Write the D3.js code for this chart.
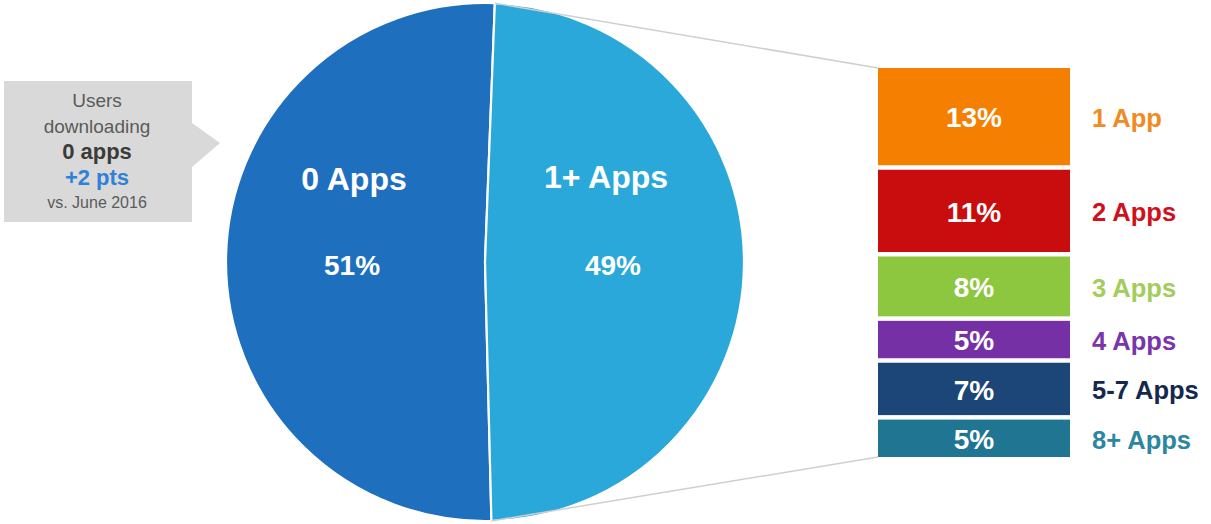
<!DOCTYPE html>
<html>
<head>
<meta charset="utf-8">
<script src="https://cdn.jsdelivr.net/npm/d3@7"></script>
<style>
  html, body { margin: 0; padding: 0; background: #fff; }
  svg { display: block; font-family: "Liberation Sans", Arial, Helvetica, sans-serif; }
</style>
</head>
<body>
<svg id="chart" width="1211" height="524"></svg>
<script>
// ---- data ----
const pieCategories = ["0 Apps", "1+ Apps"];
const pieValues = [51, 49];
const pieLabels = ["51%", "49%"];

const breakdownCategories = ["1 App", "2 Apps", "3 Apps", "4 Apps", "5-7 Apps", "8+ Apps"];
const breakdownValues = [13, 11, 8, 5, 7, 5];
const breakdownLabels = ["13%", "11%", "8%", "5%", "7%", "5%"];

const calloutLines = ["Users", "downloading", "0 apps", "+2 pts", "vs. June 2016"];

// ---- styles ----
const pieColors = { "0 Apps": "#1F6FBF", "1+ Apps": "#2AA8DA" };
const barColors = ["#F57F00", "#C90C0E", "#8DC63F", "#7530A6", "#1B4677", "#1F7592"];
const labelColors = ["#F08A22", "#D0101C", "#A3CC5C", "#7A35AC", "#14284F", "#2B86A0"];

const svg = d3.select("#chart");

// ---- pie ----
const cx = 485, cy = 262, R = 259;
const start = 0.038;
const pie = d3.pie()
  .value(d => d.value)
  .sort((a, b) => d3.ascending(a.order, b.order))
  .startAngle(start)
  .endAngle(start + 2 * Math.PI);

const pieData = pieCategories.map((c, i) => ({ cat: c, value: pieValues[i], label: pieLabels[i], order: c === "1+ Apps" ? 0 : 1 }));
const arcs = pie(pieData);
const arc = d3.arc().innerRadius(0).outerRadius(R);

const gPie = svg.append("g").attr("transform", `translate(${cx},${cy})`);
gPie.selectAll("path").data(arcs).enter().append("path")
  .attr("d", arc)
  .attr("fill", d => pieColors[d.data.cat])
  .attr("stroke", "#ffffff")
  .attr("stroke-width", 2.2);

// ---- breakdown bars ----
const barX = 878, barW = 192, barTop = 68, barBottom = 457, gap = 4.5;
const n = breakdownValues.length;
const total = d3.sum(breakdownValues);
const hScale = d3.scaleLinear().domain([0, total]).range([0, (barBottom - barTop) - gap * (n - 1)]);
const cum = [];
let acc = 0;
breakdownValues.forEach((v, i) => { cum.push(acc); acc += v; });
const barY = i => barTop + hScale(cum[i]) + gap * i;

// connector lines from slice edges to bar stack
const a1 = arcs.find(d => d.data.cat === "1+ Apps");
const pTop = [cx + R * Math.sin(a1.startAngle), cy - R * Math.cos(a1.startAngle)];
const pBot = [cx + R * Math.sin(a1.endAngle), cy - R * Math.cos(a1.endAngle)];
svg.append("line").attr("x1", pTop[0]).attr("y1", pTop[1]).attr("x2", barX).attr("y2", barTop)
  .attr("stroke", "#cfcfcf").attr("stroke-width", 1.5);
svg.append("line").attr("x1", pBot[0]).attr("y1", pBot[1]).attr("x2", barX).attr("y2", barBottom)
  .attr("stroke", "#cfcfcf").attr("stroke-width", 1.5);

const gBars = svg.append("g");
breakdownValues.forEach((v, i) => {
  const y = barY(i), h = hScale(v);
  gBars.append("rect").attr("x", barX).attr("y", y).attr("width", barW).attr("height", h)
    .attr("fill", barColors[i]);
  gBars.append("text").attr("x", barX + barW / 2).attr("y", y + h / 2).attr("dy", "0.38em")
    .attr("text-anchor", "middle").attr("fill", "#ffffff").attr("font-weight", "bold")
    .attr("font-size", 28).text(breakdownLabels[i]);
  gBars.append("text").attr("x", 1092).attr("y", y + h / 2).attr("dy", "0.4em")
    .attr("text-anchor", "start").attr("fill", labelColors[i]).attr("font-weight", "bold")
    .attr("font-size", 25.5).text(breakdownCategories[i]);
});

// ---- pie labels ----
const labelPos = {
  "0 Apps": { name: [354 - cx, 190 - cy], pct: [352 - cx, 275 - cy] },
  "1+ Apps": { name: [606 - cx, 188 - cy], pct: [613 - cx, 275 - cy] }
};
arcs.forEach(d => {
  const p = labelPos[d.data.cat];
  gPie.append("text").attr("x", p.name[0]).attr("y", p.name[1]).attr("text-anchor", "middle")
    .attr("fill", "#fff").attr("font-weight", "bold").attr("font-size", 32).text(d.data.cat);
  gPie.append("text").attr("x", p.pct[0]).attr("y", p.pct[1]).attr("text-anchor", "middle")
    .attr("fill", "#fff").attr("font-weight", "bold").attr("font-size", 28).text(d.data.label);
});

// ---- callout ----
const gC = svg.append("g");
gC.append("path")
  .attr("d", "M4,81 L192,81 L192,123 L220,143 L192,167 L192,222 L4,222 Z")
  .attr("fill", "#D9D9D9");
const cStyles = [
  { y: 107, size: 19, weight: "normal", color: "#5b5b5b" },
  { y: 133, size: 19, weight: "normal", color: "#5b5b5b" },
  { y: 159, size: 22, weight: "bold", color: "#3b3b3b" },
  { y: 185, size: 22, weight: "bold", color: "#2F80D6" },
  { y: 208, size: 16, weight: "normal", color: "#5b5b5b" }
];
calloutLines.forEach((t, i) => {
  const s = cStyles[i];
  gC.append("text").attr("x", 97).attr("y", s.y).attr("text-anchor", "middle")
    .attr("font-size", s.size).attr("font-weight", s.weight).attr("fill", s.color).text(t);
});
</script>
</body>
</html>
